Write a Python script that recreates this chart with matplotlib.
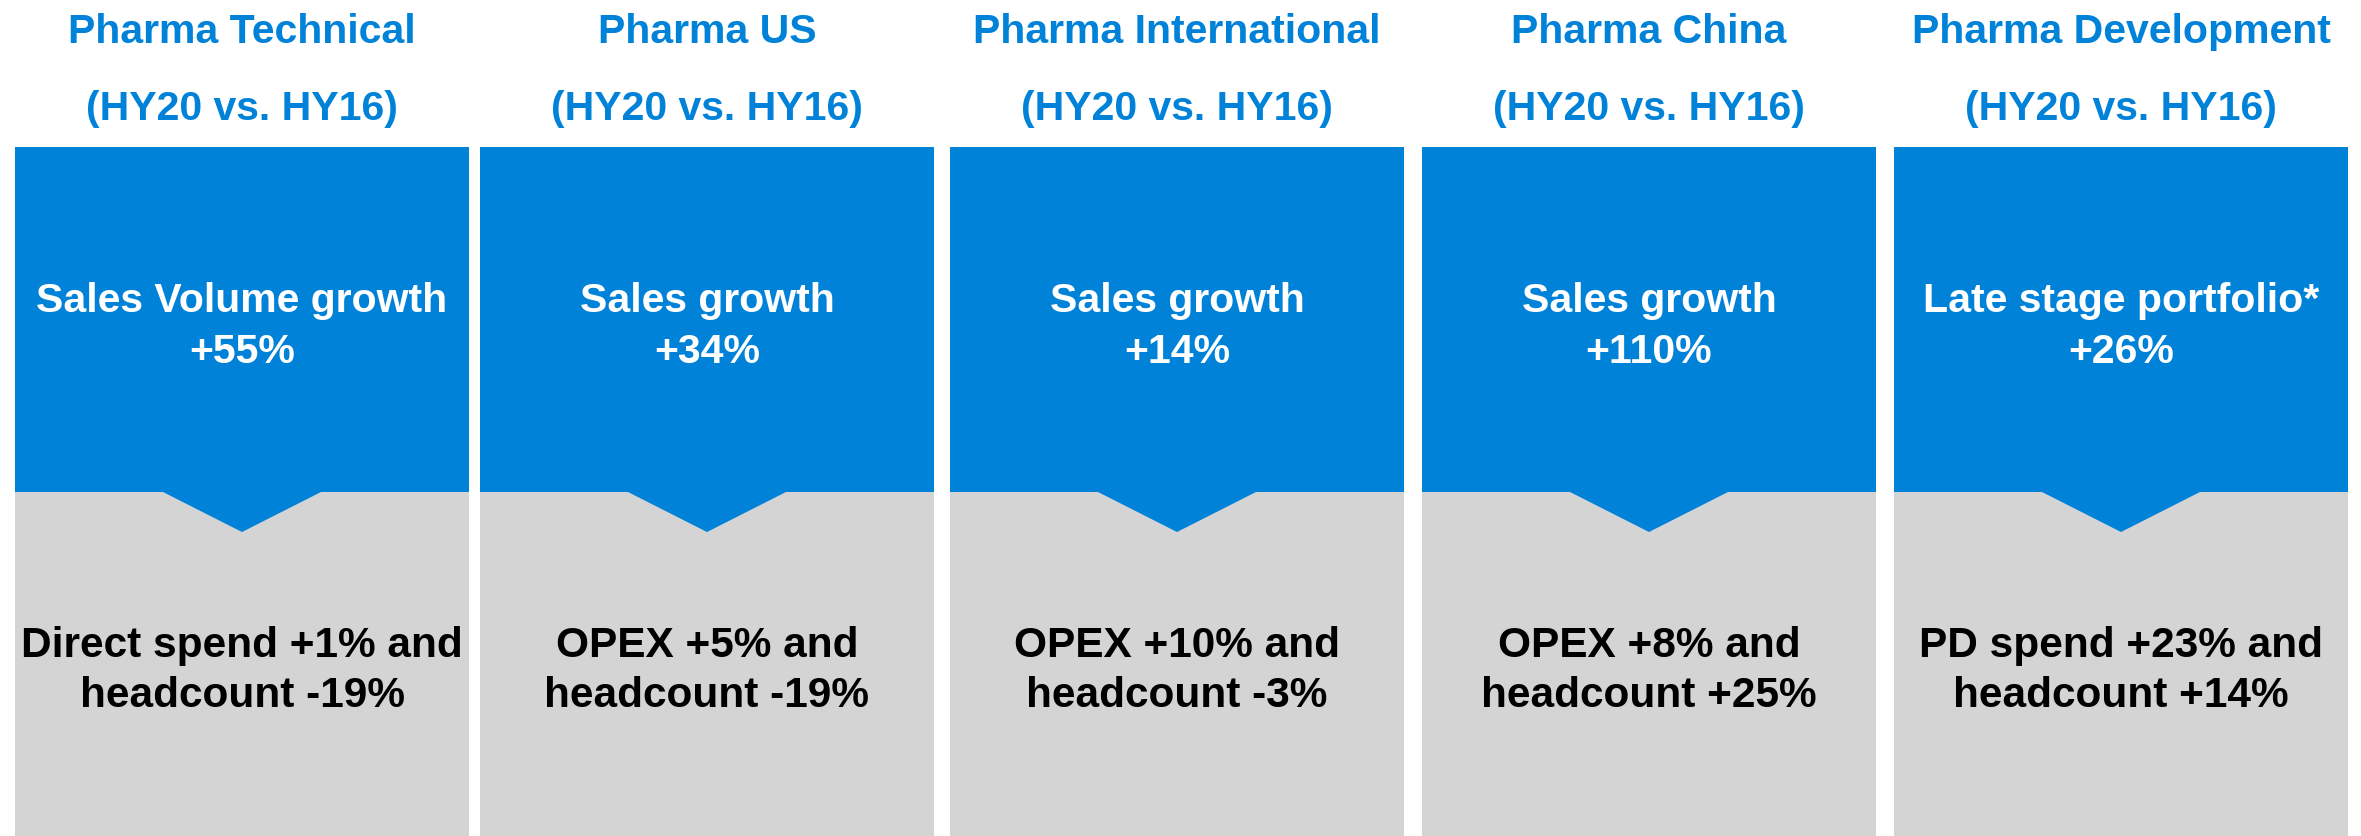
import matplotlib
matplotlib.use("Agg")
import matplotlib.pyplot as plt
from matplotlib.patches import Rectangle, Polygon

# ---- data ----
divisions = ["Pharma Technical", "Pharma US", "Pharma International",
             "Pharma China", "Pharma Development"]
period = "(HY20 vs. HY16)"
growth_metric = ["Sales Volume growth", "Sales growth", "Sales growth",
                 "Sales growth", "Late stage portfolio*"]
growth_value = ["+55%", "+34%", "+14%", "+110%", "+26%"]
cost_line1 = ["Direct spend +1% and", "OPEX +5% and", "OPEX +10% and",
              "OPEX +8% and", "PD spend +23% and"]
cost_line2 = ["headcount -19%", "headcount -19%", "headcount -3%",
              "headcount +25%", "headcount +14%"]

# ---- layout / style ----
W, H = 2361, 837
BLUE = "#0082D9"
GRAY = "#D4D4D4"
col_left = [15, 480, 950, 1422, 1894]
col_w = 454
blue_top, split, bottom = 148, 493, 837
tri_half, tri_depth = 80, 40
FONT = ["Liberation Sans", "DejaVu Sans"]
FS = 29.5
FS_GRAY = 30.5

fig = plt.figure(figsize=(W / 100, H / 100), dpi=100)
ax = fig.add_axes([0, 0, 1, 1])
ax.set_xlim(0, W)
ax.set_ylim(H, 0)
ax.axis("off")

for i, name in enumerate(divisions):
    x0 = col_left[i]
    cx = x0 + col_w / 2
    ax.add_patch(Rectangle((x0, split), col_w, bottom - split, facecolor=GRAY,
                           edgecolor="none"))
    ax.add_patch(Rectangle((x0, blue_top), col_w, split - blue_top,
                           facecolor=BLUE, edgecolor="none"))
    ax.add_patch(Polygon([(cx - tri_half, split - 0.5), (cx + tri_half, split - 0.5),
                          (cx, split + tri_depth)], closed=True,
                         facecolor=BLUE, edgecolor="none"))
    kw = dict(ha="center", va="baseline", fontweight="bold", family=FONT)
    ax.text(cx, 43, name, color=BLUE, fontsize=FS, **kw)
    ax.text(cx, 120, period, color=BLUE, fontsize=FS, **kw)
    ax.text(cx, 312, growth_metric[i], color="white", fontsize=FS, **kw)
    ax.text(cx, 363, growth_value[i], color="white", fontsize=FS, **kw)
    ax.text(cx, 657, cost_line1[i], color="black", fontsize=FS_GRAY, **kw)
    ax.text(cx, 707, cost_line2[i], color="black", fontsize=FS_GRAY, **kw)

fig.savefig("out.png", dpi=100, facecolor="white")
